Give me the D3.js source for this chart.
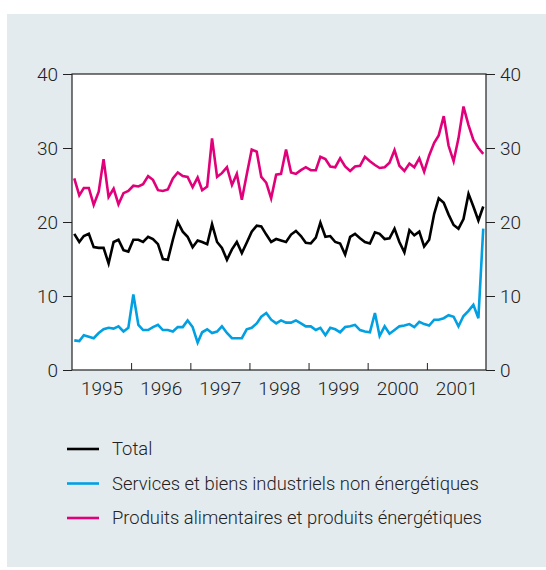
<!DOCTYPE html>
<html>
<head>
<meta charset="utf-8">
<script src="https://cdn.jsdelivr.net/npm/d3@7"></script>
<style>
  body { margin: 0; background: #fff; }
  text { font-family: Roboto, "Open Sans", sans-serif; font-weight: 300; fill: #222; }
</style>
</head>
<body>
<div id="chart"></div>
<script>
// séries mensuelles, janvier 1995 -> décembre 2001
const total = [
  18.4, 17.3, 18.1, 18.4, 16.6, 16.5, 16.5, 14.4, 17.3, 17.6, 16.2, 16.0,
  17.6, 17.6, 17.3, 18.0, 17.7, 17.0, 15.0, 14.9, 17.6, 20.0, 18.7, 18.0,
  16.6, 17.5, 17.3, 17.0, 19.7, 17.3, 16.5, 14.9, 16.3, 17.3, 15.8, 17.2,
  18.7, 19.5, 19.4, 18.3, 17.3, 17.7, 17.5, 17.3, 18.3, 18.8, 18.1, 17.2,
  17.1, 17.9, 19.9, 18.0, 18.1, 17.3, 17.1, 15.6, 18.0, 18.4, 17.8, 17.3,
  17.1, 18.6, 18.4, 17.7, 17.8, 19.1, 17.3, 15.9, 18.9, 18.2, 18.7, 16.7,
  17.6, 21.1, 23.2, 22.6, 21.0, 19.6, 19.1, 20.4, 23.8, 22.1, 20.2, 22.1
];
const services = [
  4.0, 3.9, 4.7, 4.5, 4.3, 5.0, 5.5, 5.7, 5.6, 5.9, 5.2, 5.7,
  10.2, 6.1, 5.4, 5.4, 5.8, 6.1, 5.4, 5.4, 5.2, 5.8, 5.8, 6.7,
  5.8, 3.7, 5.1, 5.5, 5.0, 5.2, 5.9, 5.0, 4.3, 4.3, 4.3, 5.5,
  5.7, 6.3, 7.2, 7.7, 6.8, 6.3, 6.7, 6.4, 6.4, 6.7, 6.3, 5.9,
  5.9, 5.4, 5.7, 4.7, 5.7, 5.5, 5.1, 5.8, 5.9, 6.1, 5.4, 5.2,
  5.1, 7.7, 4.6, 5.9, 4.9, 5.4, 5.9, 6.0, 6.2, 5.8, 6.5, 6.2,
  6.0, 6.8, 6.8, 7.0, 7.4, 7.2, 5.9, 7.3, 8.0, 8.8, 7.0, 19.1
];
const produits = [
  25.9, 23.6, 24.6, 24.6, 22.3, 24.1, 28.5, 23.4, 24.5, 22.4, 23.9, 24.2,
  24.9, 24.8, 25.1, 26.2, 25.7, 24.3, 24.2, 24.4, 25.9, 26.7, 26.2, 26.1,
  24.7, 26.0, 24.3, 24.8, 31.3, 26.1, 26.6, 27.4, 25.0, 26.5, 23.0, 26.4,
  29.8, 29.5, 26.1, 25.3, 23.2, 26.4, 26.5, 29.8, 26.7, 26.5, 27.0, 27.4,
  27.0, 27.0, 28.8, 28.5, 27.5, 27.4, 28.6, 27.5, 26.9, 27.5, 27.6, 28.8,
  28.2, 27.7, 27.3, 27.4, 28.0, 29.7, 27.6, 26.9, 27.9, 27.4, 28.6, 26.8,
  29.0, 30.7, 31.7, 34.3, 30.3, 28.2, 31.3, 35.6, 33.1, 31.1, 30.0, 29.2
];
const yTicks = [0, 10, 20, 30, 40];
const years = [1995, 1996, 1997, 1998, 1999, 2000, 2001];
const seriesNames = [
  'Total',
  'Services et biens industriels non énergétiques',
  'Produits alimentaires et produits énergétiques'
];
const colors = ['#000000', '#00a0e2', '#e2007a'];

const width = 546, height = 570;
const plot = { left: 72, right: 486, top: 74, bottom: 370 };

const svg = d3.select('#chart').append('svg')
  .attr('width', width)
  .attr('height', height);

// fond gris-bleu
svg.append('rect')
  .attr('x', 7).attr('y', 14)
  .attr('width', width - 7).attr('height', 553)
  .attr('fill', '#e4ebee');

// zone du graphique
svg.append('rect')
  .attr('x', plot.left).attr('y', plot.top)
  .attr('width', plot.right - plot.left).attr('height', plot.bottom - plot.top)
  .attr('fill', '#fff');

const months = d3.timeMonth.range(new Date(1995, 0, 1), new Date(2002, 0, 1))
  .map(m => new Date(m.getFullYear(), m.getMonth(), 15));

const x = d3.scaleTime()
  .domain([new Date(1995, 0, 1), new Date(2002, 0, 1)])
  .range([plot.left, plot.right]);

const y = d3.scaleLinear()
  .domain([0, 40])
  .range([plot.bottom, plot.top]);

// axes Y gauche et droite
const yLeft = svg.append('g')
  .attr('transform', `translate(${plot.left},0)`)
  .call(d3.axisLeft(y).tickValues(yTicks).tickSize(9).tickSizeOuter(0).tickPadding(5));
const yRight = svg.append('g')
  .attr('transform', `translate(${plot.right},0)`)
  .call(d3.axisRight(y).tickValues(yTicks).tickSize(9).tickSizeOuter(0).tickPadding(5));
[yLeft, yRight].forEach(g => {
  g.select('.domain').remove();
  g.selectAll('line').attr('stroke', '#222');
  g.selectAll('text').style('font-size', '19px');
});

// axe X : traits aux changements d'année, libellés au milieu de l'année
const xAxis = svg.append('g')
  .attr('transform', `translate(0,${plot.bottom})`)
  .call(d3.axisBottom(x)
    .tickValues(years.slice(1).map(yr => new Date(yr, 0, 1)))
    .tickSize(-7).tickSizeOuter(0).tickFormat(''));
xAxis.select('.domain').remove();
xAxis.selectAll('line').attr('stroke', '#222');

const xLabels = svg.append('g')
  .attr('transform', `translate(0,${plot.bottom})`)
  .call(d3.axisBottom(x)
    .tickValues(years.map(yr => new Date(yr, 6, 2)))
    .tickSize(0).tickPadding(12).tickFormat(d3.timeFormat('%Y')));
xLabels.select('.domain').remove();
xLabels.selectAll('text').style('font-size', '19px');

// cadre
svg.append('rect')
  .attr('x', plot.left).attr('y', plot.top)
  .attr('width', plot.right - plot.left).attr('height', plot.bottom - plot.top)
  .attr('fill', 'none')
  .attr('stroke', '#222')
  .attr('stroke-width', 1.2);

// courbes
const line = d3.line()
  .x((d, i) => x(months[i]))
  .y(d => y(d));

const data = [total, services, produits];
[2, 0, 1].forEach(k => {
  svg.append('path')
    .datum(data[k])
    .attr('d', line)
    .attr('fill', 'none')
    .attr('stroke', colors[k])
    .attr('stroke-width', 2.6)
    .attr('stroke-linejoin', 'miter');
});

// légende
const legend = svg.append('g');
seriesNames.forEach((name, k) => {
  const ly = 449 + k * 34.5;
  legend.append('line')
    .attr('x1', 67).attr('x2', 99)
    .attr('y1', ly).attr('y2', ly)
    .attr('stroke', colors[k])
    .attr('stroke-width', 2.6);
  legend.append('text')
    .attr('x', 112).attr('y', ly)
    .attr('dy', '0.35em')
    .style('font-size', '18.4px')
    .text(name);
});
</script>
</body>
</html>
